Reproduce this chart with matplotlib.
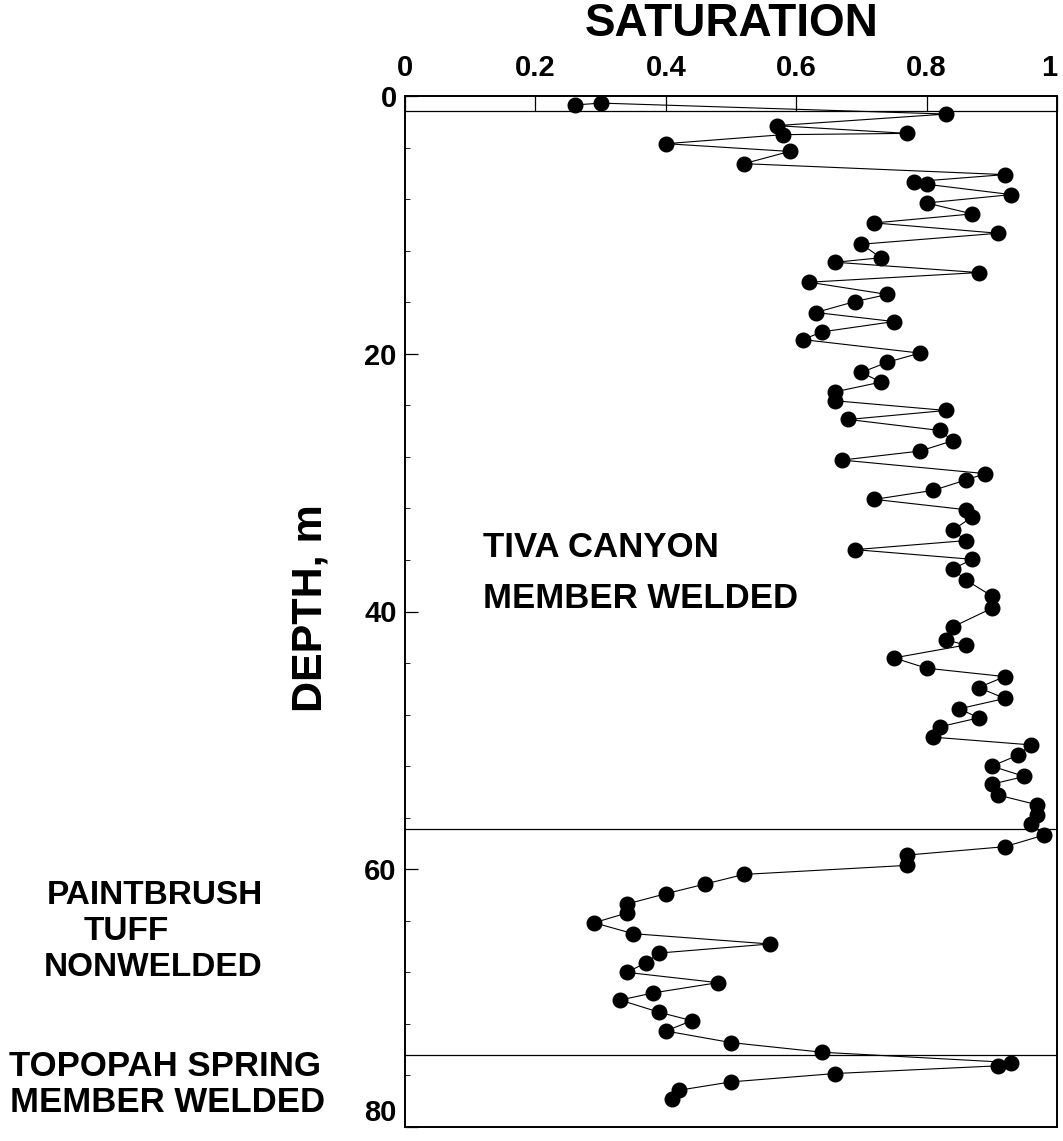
import matplotlib
matplotlib.use("Agg")
import matplotlib.pyplot as plt
from matplotlib.ticker import MultipleLocator

plt.rcParams['font.family'] = ['Liberation Sans', 'DejaVu Sans']
plt.rcParams['font.weight'] = 'bold'

# saturation readings, listed in the order they are joined
saturation = [0.26, 0.30, 0.83, 0.57, 0.77, 0.58, 0.40, 0.59, 0.52, 0.92,
              0.78, 0.80, 0.93, 0.80, 0.87, 0.72, 0.91, 0.70, 0.73, 0.66,
              0.88, 0.62, 0.74, 0.69, 0.63, 0.75, 0.64, 0.61, 0.79, 0.74,
              0.70, 0.73, 0.66, 0.66, 0.83, 0.68, 0.82, 0.84, 0.79, 0.67,
              0.89, 0.86, 0.81, 0.72, 0.86, 0.87, 0.84, 0.86, 0.69, 0.87,
              0.84, 0.86, 0.90, 0.90, 0.84, 0.83, 0.86, 0.75, 0.80, 0.92,
              0.88, 0.92, 0.85, 0.88, 0.82, 0.81, 0.96, 0.94, 0.90, 0.95,
              0.90, 0.91, 0.97, 0.97, 0.96, 0.98, 0.92, 0.77, 0.77, 0.52,
              0.46, 0.40, 0.34, 0.34, 0.29, 0.35, 0.56, 0.39, 0.37, 0.34,
              0.48, 0.38, 0.33, 0.39, 0.44, 0.40, 0.50, 0.64, 0.93, 0.91,
              0.66, 0.50, 0.42, 0.41]
depth = [0.7, 0.55, 1.4, 2.3, 2.9, 3.0, 3.7, 4.3, 5.25, 6.1,
         6.65, 6.85, 7.65, 8.3, 9.15, 9.85, 10.65, 11.5, 12.55, 12.9,
         13.7, 14.45, 15.4, 15.95, 16.8, 17.5, 18.3, 18.9, 19.95, 20.65,
         21.45, 22.2, 22.95, 23.65, 24.4, 25.1, 25.95, 26.75, 27.55, 28.25,
         29.3, 29.8, 30.6, 31.3, 32.1, 32.65, 33.7, 34.5, 35.2, 35.95,
         36.7, 37.55, 38.8, 39.75, 41.2, 42.2, 42.6, 43.6, 44.4, 45.05,
         45.9, 46.75, 47.55, 48.25, 48.95, 49.75, 50.35, 51.15, 52.0, 52.8,
         53.4, 54.25, 55.0, 55.8, 56.5, 57.35, 58.25, 58.9, 59.7, 60.4,
         61.15, 61.9, 62.7, 63.4, 64.15, 65.0, 65.8, 66.5, 67.25, 68.0,
         68.8, 69.6, 70.15, 71.1, 71.75, 72.55, 73.45, 74.2, 75.0, 75.25,
         75.85, 76.5, 77.15, 77.85]

# unit boundaries (m)
boundaries = [1.2, 56.9, 74.4]

x_ticks = [0, 0.2, 0.4, 0.6, 0.8, 1]
x_labels = ['0', '0.2', '0.4', '0.6', '0.8', '1']
y_ticks = [0, 20, 40, 60, 80]

W, H = 1063, 1141
fig = plt.figure(figsize=(W / 100, H / 100), dpi=100)
ax = fig.add_axes([405 / W, 1 - 1127 / H, 652 / W, 1031 / H])

ax.plot(saturation, depth, color='black', lw=0.8, marker='o',
        markersize=10.5, markerfacecolor='black', markeredgecolor='black')
for b in boundaries:
    ax.axhline(b, color='black', lw=0.9)

ax.set_xlim(0, 1)
ax.set_ylim(80, 0)

ax.xaxis.tick_top()
ax.set_xticks(x_ticks)
ax.set_xticklabels(x_labels)
ax.get_xticklabels()[-1].set_horizontalalignment('right')
ax.set_yticks(y_ticks)
ax.get_yticklabels()[-1].set_verticalalignment('bottom')
ax.yaxis.set_minor_locator(MultipleLocator(4))
ax.tick_params(axis='x', direction='in', length=11, width=0.9, pad=10,
               labelsize=21, top=True, bottom=False)
ax.tick_params(axis='y', which='major', direction='in', length=9.5,
               width=0.9, pad=6, labelsize=21, right=False)
ax.tick_params(axis='y', which='minor', direction='in', length=3.5,
               width=0.6, right=False)
for s in ax.spines.values():
    s.set_linewidth(1.4)

fig.text(732 / W, 1 - 24 / H, 'SATURATION', ha='center', va='center',
         fontsize=33, fontweight='bold')
fig.text(311 / W, 1 - 608 / H, 'DEPTH, m', ha='center', va='center',
         rotation=90, fontsize=31, fontweight='bold')

ax.text(0.12, 35.0, 'TIVA CANYON', ha='left', va='center', fontsize=25)
ax.text(0.12, 39.0, 'MEMBER WELDED', ha='left', va='center', fontsize=25)

fig.text(155 / W, 1 - 895 / H, 'PAINTBRUSH', ha='center', va='center', fontsize=24)
fig.text(126 / W, 1 - 932 / H, 'TUFF', ha='center', va='center', fontsize=24)
fig.text(153 / W, 1 - 968 / H, 'NONWELDED', ha='center', va='center', fontsize=24)
fig.text(165 / W, 1 - 1066 / H, 'TOPOPAH SPRING', ha='center', va='center', fontsize=25)
fig.text(168 / W, 1 - 1102 / H, 'MEMBER WELDED', ha='center', va='center', fontsize=25)

plt.savefig('out.png', dpi=100)
